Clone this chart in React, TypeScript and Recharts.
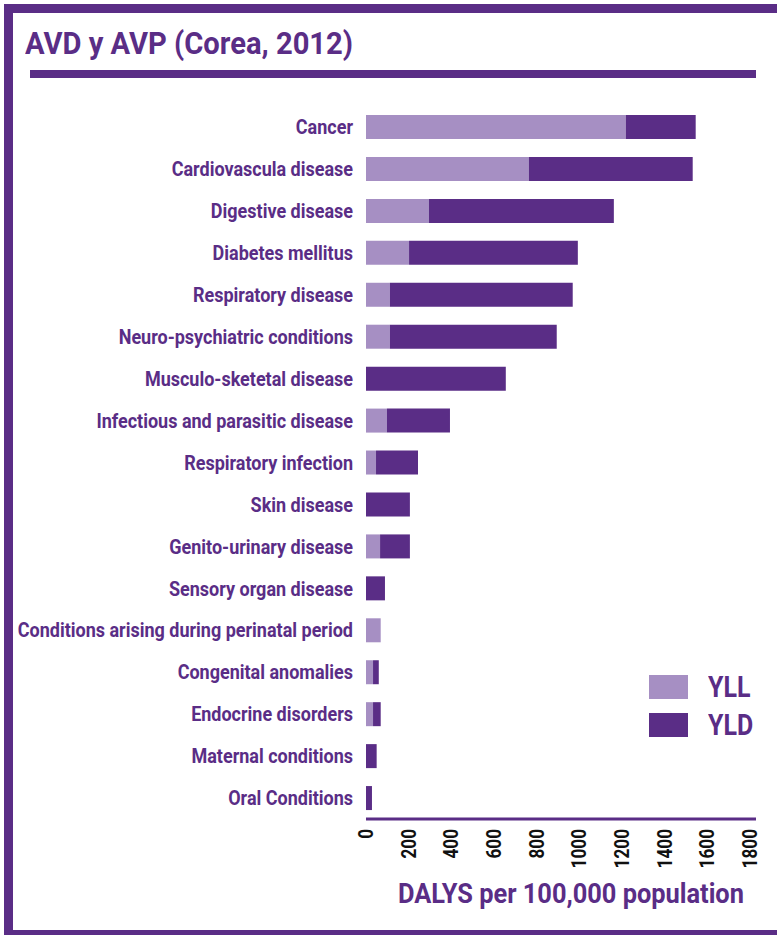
import { Bar, BarChart, XAxis, YAxis } from 'recharts'

const PURPLE = '#5a2d86'
const LILAC = '#a68fc3'
const FONT = 'Roboto, "Noto Sans", sans-serif'

const causes = [
  'Cancer',
  'Cardiovascula disease',
  'Digestive disease',
  'Diabetes mellitus',
  'Respiratory disease',
  'Neuro-psychiatric conditions',
  'Musculo-sketetal disease',
  'Infectious and parasitic disease',
  'Respiratory infection',
  'Skin disease',
  'Genito-urinary disease',
  'Sensory organ disease',
  'Conditions arising during perinatal period',
  'Congenital anomalies',
  'Endocrine disorders',
  'Maternal conditions',
  'Oral Conditions',
]

const yll = [1219, 764, 295, 202, 112, 112, 0, 98, 47, 0, 66, 0, 69, 33, 33, 0, 0]
const yld = [328, 769, 868, 792, 858, 783, 656, 296, 197, 206, 140, 89, 0, 27, 36, 50, 28]

const xTicks = [0, 200, 400, 600, 800, 1000, 1200, 1400, 1600, 1800]

const legendItems = [
  { label: 'YLL', color: LILAC },
  { label: 'YLD', color: PURPLE },
]

const rows = causes.map((name, i) => ({ name, yll: yll[i], yld: yld[i] }))

function CauseTick({ x, y, payload }: { x?: number; y?: number; payload?: { value: string } }) {
  return (
    <g transform={`translate(${x},${y}) scale(0.9,1)`}>
      <text x={0} y={0} dy="0.36em" textAnchor="end" fill={PURPLE} fontSize={20} fontWeight={700} fontFamily={FONT}>
        {payload?.value}
      </text>
    </g>
  )
}

function ValueTick({ x, y, payload }: { x?: number; y?: number; payload?: { value: number } }) {
  return (
    <g transform={`translate(${x},${y}) rotate(-90) scale(0.86,1)`}>
      <text x={0} y={0} dy="0.36em" textAnchor="end" fill="#111" fontSize={20} fontWeight={700} fontFamily={FONT}>
        {payload?.value}
      </text>
    </g>
  )
}

// condensed look: Roboto bold squeezed horizontally
const squeezed = (size: number, sx: number): React.CSSProperties => ({
  color: PURPLE,
  fontFamily: FONT,
  fontWeight: 700,
  fontSize: size,
  whiteSpace: 'nowrap',
  display: 'inline-block',
  transform: `scaleX(${sx})`,
  transformOrigin: 'left top',
})

export default function App() {
  return (
    <div style={{ position: 'absolute', left: 0, top: 0, width: 777, height: 935, background: '#fff', overflow: 'hidden' }}>
      <div
        style={{
          position: 'absolute',
          left: 4,
          top: 4,
          width: 773,
          height: 931,
          borderLeft: `9px solid ${PURPLE}`,
          borderTop: `9px solid ${PURPLE}`,
          borderBottom: `5px solid ${PURPLE}`,
          boxSizing: 'border-box',
        }}
      />
      <div style={{ position: 'absolute', left: 25, top: 25, lineHeight: '38px', ...squeezed(31, 0.94) }}>
        AVD y AVP (Corea, 2012)
      </div>
      <div style={{ position: 'absolute', left: 30, top: 70, width: 726, height: 8, background: PURPLE }} />

      <div style={{ position: 'absolute', left: 0, top: 0 }}>
        <BarChart
          width={777}
          height={935}
          data={rows}
          layout="vertical"
          margin={{ top: 106, right: 21, bottom: 0, left: 0 }}
          barSize={24}
        >
          <XAxis
            type="number"
            domain={[0, 1830]}
            ticks={xTicks}
            interval={0}
            height={116}
            tickSize={0}
            tickMargin={10}
            axisLine={{ stroke: PURPLE, strokeWidth: 3 }}
            tickLine={false}
            tick={<ValueTick />}
          />
          <YAxis
            type="category"
            dataKey="name"
            width={366}
            interval={0}
            tickSize={0}
            tickMargin={13}
            axisLine={false}
            tickLine={false}
            tick={<CauseTick />}
          />
          <Bar dataKey="yll" stackId="d" fill={LILAC} isAnimationActive={false} />
          <Bar dataKey="yld" stackId="d" fill={PURPLE} isAnimationActive={false} />
        </BarChart>
      </div>

      <div style={{ position: 'absolute', left: 398, top: 877, lineHeight: '34px', ...squeezed(27, 0.94) }}>
        DALYS per 100,000 population
      </div>

      <div style={{ position: 'absolute', left: 649, top: 675, display: 'flex', flexDirection: 'column', gap: 14 }}>
        {legendItems.map((it) => (
          <div key={it.label} style={{ display: 'flex', alignItems: 'center', height: 24 }}>
            <div style={{ width: 39, height: 24, background: it.color }} />
            <span style={{ marginLeft: 20, lineHeight: '24px', ...squeezed(29, 0.86), transformOrigin: 'left center' }}>
              {it.label}
            </span>
          </div>
        ))}
      </div>
    </div>
  )
}
